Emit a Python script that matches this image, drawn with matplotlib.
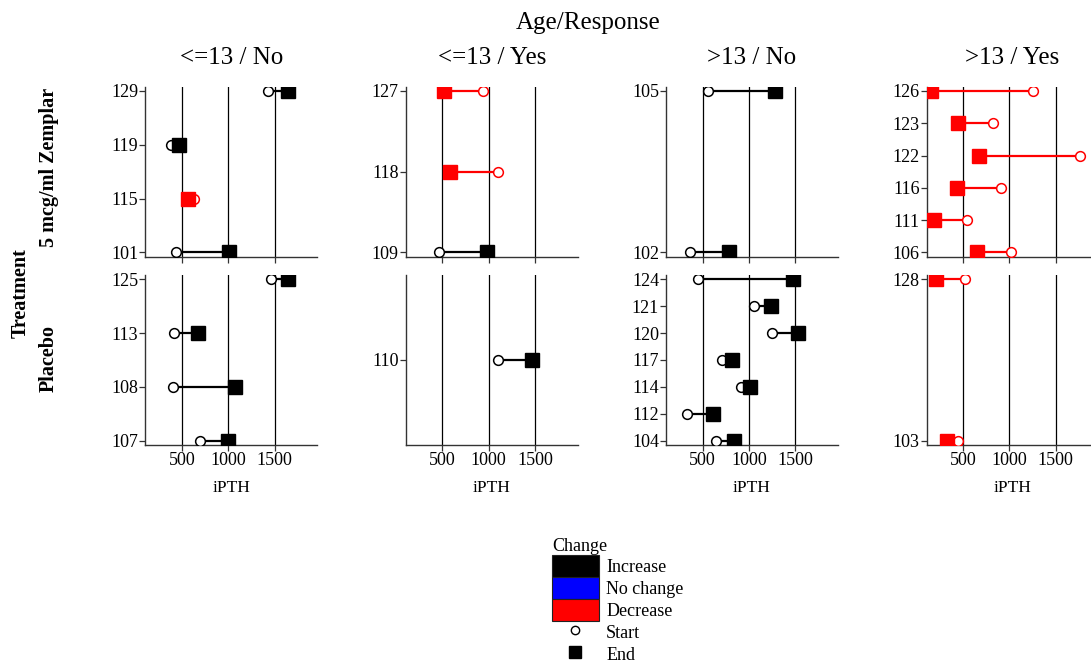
import numpy as np
import matplotlib.pyplot as plt
from matplotlib.patches import Patch
from matplotlib.lines import Line2D

plt.rcParams['font.family'] = ['Liberation Serif', 'DejaVu Serif']

# -----------------------------
# Data: iPTH at start and end per subject
# -----------------------------
subject = [101, 102, 103, 104, 105, 106, 107, 108, 109, 110,
           111, 112, 113, 114, 115, 116, 117, 118, 119, 120,
           121, 122, 123, 124, 125, 126, 127, 128, 129]
treatment = ['Z', 'Z', 'P', 'P', 'Z', 'Z', 'P', 'P', 'Z', 'P',
             'Z', 'P', 'P', 'P', 'Z', 'Z', 'P', 'Z', 'Z', 'P',
             'P', 'Z', 'Z', 'P', 'P', 'Z', 'Z', 'P', 'Z']
age_group = ['<=13', '>13', '>13', '>13', '>13', '>13', '<=13', '<=13', '<=13', '<=13',
             '>13', '>13', '<=13', '>13', '<=13', '>13', '>13', '<=13', '<=13', '>13',
             '>13', '>13', '>13', '>13', '<=13', '>13', '<=13', '>13', '<=13']
response = ['No', 'No', 'Yes', 'No', 'No', 'Yes', 'No', 'No', 'Yes', 'Yes',
            'Yes', 'No', 'No', 'No', 'No', 'Yes', 'No', 'Yes', 'No', 'No',
            'No', 'Yes', 'Yes', 'No', 'No', 'Yes', 'Yes', 'Yes', 'No']
ipth_start = [440, 362, 439, 649, 561, 1015, 696, 405, 464, 1098,
              543, 330, 413, 917, 630, 907, 711, 1105, 380, 1250,
              1054, 1765, 826, 450, 1457, 1250, 935, 515, 1430]
ipth_end = [1005, 786, 330, 834, 1283, 649, 997, 1068, 985, 1467,
            182, 616, 670, 1015, 560, 436, 820, 580, 470, 1533,
            1235, 674, 446, 1472, 1649, 157, 514, 207, 1650]

rows = [('Z', '5 mcg/ml Zemplar'), ('P', 'Placebo')]
cols = [('<=13', 'No'), ('<=13', 'Yes'), ('>13', 'No'), ('>13', 'Yes')]
change_colors = {'Increase': 'black', 'No change': 'blue', 'Decrease': 'red'}

# -----------------------------
# Layout (pixels)
# -----------------------------
W, H = 1091, 666
fig = plt.figure(figsize=(W / 100, H / 100), dpi=100)

col_left = [145.3, 405.7, 666.0, 926.5]
row_top = [86.7, 275.0]
pw, ph = 172, 170

for r, (trt, row_name) in enumerate(rows):
    for c, (age, resp) in enumerate(cols):
        ax = fig.add_axes([col_left[c] / W, 1 - (row_top[r] + ph) / H, pw / W, ph / H])
        idx = [i for i in range(len(subject))
               if treatment[i] == trt and age_group[i] == age and response[i] == resp]
        idx.sort(key=lambda i: subject[i])
        n = len(idx)
        for pos, i in enumerate(idx):
            s, e = ipth_start[i], ipth_end[i]
            if e > s:
                col = change_colors['Increase']
            elif e < s:
                col = change_colors['Decrease']
            else:
                col = change_colors['No change']
            ax.plot([s, e], [pos, pos], color=col, lw=1.6, zorder=3)
            ax.plot(s, pos, 'o', ms=7, mfc='white', mec=col, mew=1.1, zorder=4)
            ax.plot(e, pos, 's', ms=10.5, color=col, zorder=5)

        if n > 1:
            pad = 0.026 * (n - 1)
            ax.set_ylim(-pad, n - 1 + pad)
        else:
            ax.set_ylim(-1, 1)
        ax.set_yticks(range(n))
        ax.set_yticklabels([str(subject[i]) for i in idx])
        ax.set_xlim(104, 1961)
        ax.set_xticks([500, 1000, 1500])
        ax.grid(axis='x', color='black', lw=0.9)
        ax.set_axisbelow(True)
        for side in ['top', 'right']:
            ax.spines[side].set_visible(False)
        for side in ['left', 'bottom']:
            ax.spines[side].set_color('#333333')
            ax.spines[side].set_linewidth(1.0)
        ax.tick_params(axis='both', length=4, width=0.9, color='#333333',
                       labelsize=13, pad=1)
        if r == 0:
            ax.tick_params(axis='x', labelbottom=False)
            ax.set_title(f'{age} / {resp}', fontsize=18, pad=16)
        else:
            ax.set_xlabel('iPTH', fontsize=12.5, labelpad=8)

# Facet titles and row labels
fig.text(588 / W, 1 - 23 / H, 'Age/Response', fontsize=18, ha='center', va='center')
fig.text(49 / W, 1 - 167 / H, '5 mcg/ml Zemplar', fontsize=14.5, fontweight='bold',
         rotation=90, ha='center', va='center')
fig.text(49 / W, 1 - 359 / H, 'Placebo', fontsize=14.5, fontweight='bold',
         rotation=90, ha='center', va='center')
fig.text(21 / W, 1 - 293 / H, 'Treatment', fontsize=14.5, fontweight='bold',
         rotation=90, ha='center', va='center')

# Legend
handles = [Patch(facecolor=change_colors[k], edgecolor='#222222', lw=0.8)
           for k in change_colors]
handles += [Line2D([], [], ls='none', marker='o', ms=6, mfc='white', mec='black', mew=1),
            Line2D([], [], ls='none', marker='s', ms=9, color='black')]
labels = list(change_colors) + ['Start', 'End']
leg = fig.legend(handles, labels, title='Change', loc='upper left',
                 bbox_to_anchor=(552 / W, 1 - 538 / H), frameon=False,
                 fontsize=13, title_fontsize=13, handlelength=2.6,
                 handleheight=1.5, labelspacing=0, handletextpad=0.4,
                 borderpad=0, borderaxespad=0, alignment='left')

plt.savefig('out.png', dpi=100)
